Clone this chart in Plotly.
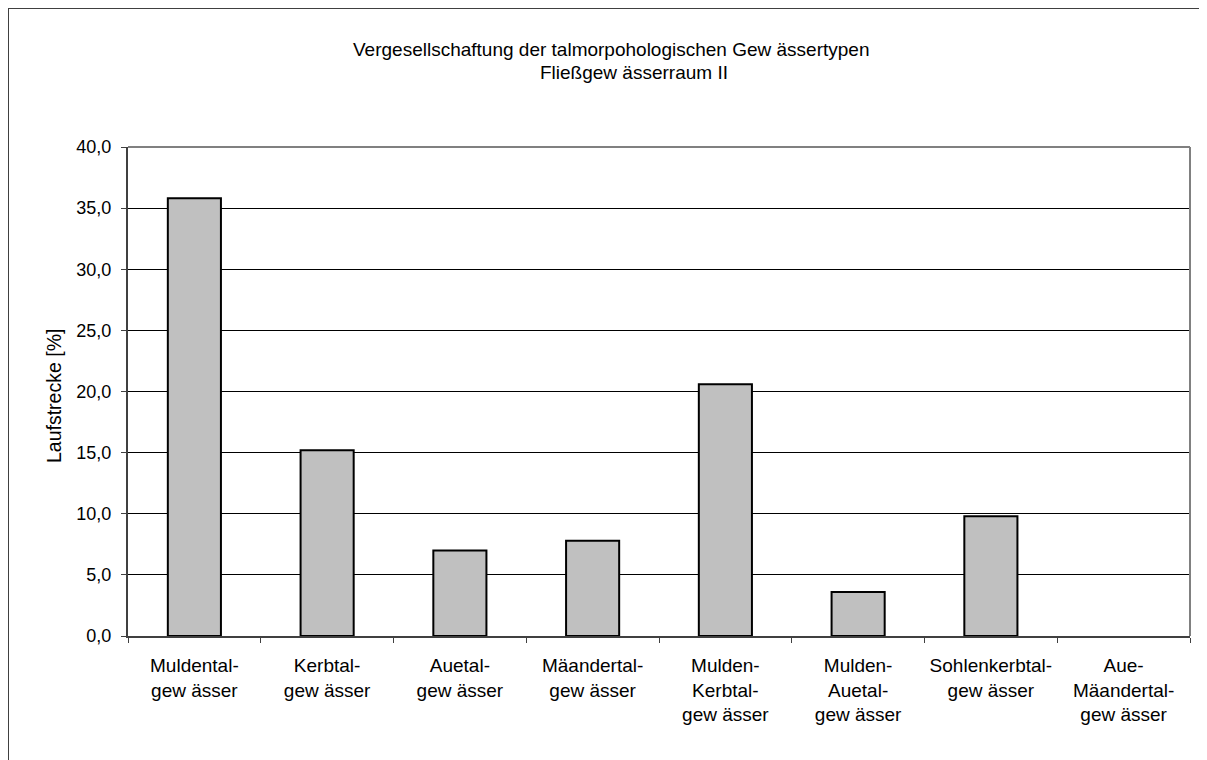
import plotly.graph_objects as go

categories = [
    "Muldental-<br>gew ässer",
    "Kerbtal-<br>gew ässer",
    "Auetal-<br>gew ässer",
    "Mäandertal-<br>gew ässer",
    "Mulden-<br>Kerbtal-<br>gew ässer",
    "Mulden-<br>Auetal-<br>gew ässer",
    "Sohlenkerbtal-<br>gew ässer",
    "Aue-<br>Mäandertal-<br>gew ässer",
]
values = [35.8, 15.2, 7.0, 7.8, 20.6, 3.6, 9.8, 0.0]
title_line1 = "Vergesellschaftung der talmorpohologischen Gew ässertypen"
title_line2 = "Fließgew ässerraum II"
y_title = "Laufstrecke [%]"

W, H = 1207, 760
OFF = 8  # page body margin offset
# target plot area in screenshot px: x 128..1190, y 147..636
L = 128 - OFF
T = 147 - OFF
R = W - (1190 - OFF)
B = H - (636 - OFF)
PW, PH = W - L - R, H - T - B

def px_x(px):
    return (px - OFF - L) / PW

def px_y(py):
    return (H - B - (py - OFF)) / PH

FONT = "Liberation Sans, Arial, sans-serif"

line_widths = [0 if v == 0 else 2 for v in values]

fig = go.Figure(
    go.Bar(
        x=categories,
        y=values,
        marker=dict(color="#C0C0C0", line=dict(color="#000000", width=line_widths)),
        width=0.4,
    )
)

fig.update_layout(
    width=W,
    height=H,
    margin=dict(l=L, r=R, t=T, b=B),
    paper_bgcolor="white",
    plot_bgcolor="white",
    separators=", ",
    font=dict(family=FONT, color="#000000", size=18),
    showlegend=False,
)

fig.update_xaxes(
    type="category",
    showgrid=False,
    showline=True,
    linecolor="#404040",
    linewidth=2,
    ticks="outside",
    tickson="boundaries",
    ticklen=5,
    tickcolor="#404040",
    tickwidth=1,
    ticklabelstandoff=11,
    tickfont=dict(size=19, family=FONT, color="#000000"),
)
fig.update_yaxes(
    range=[0, 40],
    dtick=5,
    tickformat=".1f",
    showgrid=True,
    gridcolor="#000000",
    gridwidth=1,
    showline=True,
    linecolor="#404040",
    linewidth=2,
    ticks="outside",
    ticklen=5,
    tickcolor="#404040",
    ticklabelstandoff=6,
    tickfont=dict(size=18, family=FONT, color="#000000"),
    zeroline=False,
)

shapes = [
    dict(type="line", xref="paper", yref="paper", x0=0, x1=1, y0=1, y1=1,
         line=dict(color="#808080", width=2)),
    dict(type="line", xref="paper", yref="paper", x0=1, x1=1, y0=0, y1=1,
         line=dict(color="#808080", width=2)),
    dict(type="line", xref="paper", yref="paper", x0=px_x(8), x1=px_x(W + 20),
         y0=px_y(8), y1=px_y(8), line=dict(color="#404040", width=2)),
    dict(type="line", xref="paper", yref="paper", x0=px_x(8), x1=px_x(8),
         y0=px_y(8), y1=px_y(H + 20), line=dict(color="#404040", width=2)),
]
fig.update_layout(shapes=shapes)

annotations = [
    dict(text=title_line1, xref="paper", yref="paper", x=px_x(611), y=px_y(50),
         xanchor="center", yanchor="middle", showarrow=False,
         font=dict(size=19, family=FONT, color="#000000")),
    dict(text=title_line2, xref="paper", yref="paper", x=px_x(634), y=px_y(72),
         xanchor="center", yanchor="middle", showarrow=False,
         font=dict(size=19, family=FONT, color="#000000")),
    dict(text=y_title, xref="paper", yref="paper", x=px_x(54), y=px_y(396),
         xanchor="center", yanchor="middle", showarrow=False, textangle=-90,
         font=dict(size=19.5, family=FONT, color="#000000")),
]
fig.update_layout(annotations=annotations)

fig.write_html("out.html")
